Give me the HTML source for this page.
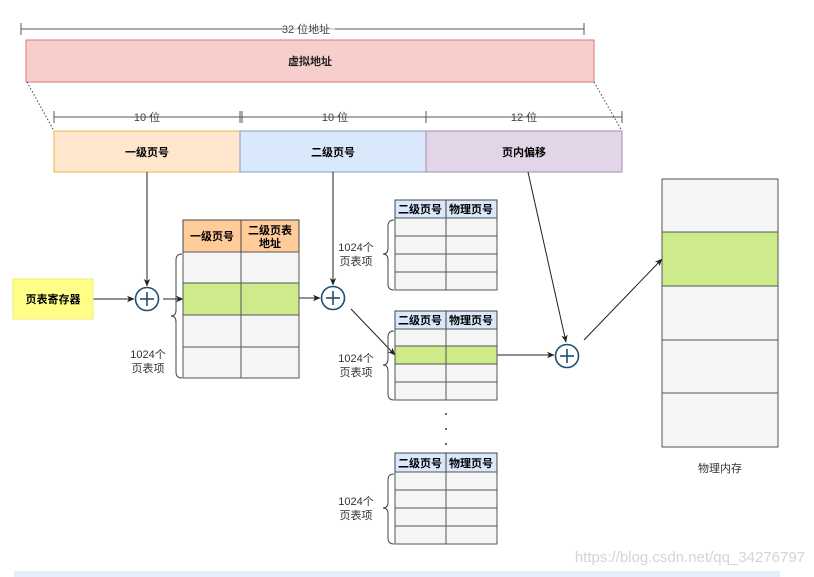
<!DOCTYPE html>
<html><head><meta charset="utf-8"><style>
html,body{margin:0;padding:0;background:#fff;}
svg{display:block;}
text{font-family:"Liberation Sans","Noto Sans CJK SC",sans-serif;}
</style></head><body>
<svg width="814" height="577" viewBox="0 0 814 577" xmlns="http://www.w3.org/2000/svg">
<defs>
<marker id="a" markerWidth="8" markerHeight="8" refX="7" refY="4" orient="auto" markerUnits="userSpaceOnUse">
<path d="M0,0.8 L7.5,4 L0,7.2 L2,4 Z" fill="#222"/></marker>
</defs>
<!-- top dimension -->
<line x1="21" y1="29" x2="584" y2="29" stroke="#555" stroke-width="1"/>
<line x1="21" y1="23" x2="21" y2="35" stroke="#555"/>
<line x1="584" y1="23" x2="584" y2="35" stroke="#555"/>
<rect x="285" y="22" width="50" height="13" fill="#fff" opacity="0.6"/>
<text x="306" y="33" font-size="11" fill="#444" text-anchor="middle">32 位地址</text>
<rect x="26" y="40" width="568" height="42" fill="#f8cecc" stroke="#d47b78" stroke-width="1"/>
<text x="310" y="65" font-size="11" font-weight="bold" text-anchor="middle" fill="#222">虚拟地址</text>
<line x1="27" y1="82" x2="54" y2="131" stroke="#444" stroke-dasharray="1.5,2"/>
<line x1="594" y1="82" x2="622" y2="131" stroke="#444" stroke-dasharray="1.5,2"/>
<!-- second dimension -->
<line x1="54" y1="117" x2="622" y2="117" stroke="#555"/>
<line x1="54" y1="111" x2="54" y2="123" stroke="#555"/>
<line x1="240" y1="111" x2="240" y2="123" stroke="#555"/>
<line x1="242" y1="111" x2="242" y2="123" stroke="#555"/>
<line x1="426" y1="111" x2="426" y2="123" stroke="#555"/>
<line x1="622" y1="111" x2="622" y2="123" stroke="#555"/>
<text x="147" y="121" font-size="11" fill="#444" text-anchor="middle">10 位</text>
<text x="335" y="121" font-size="11" fill="#444" text-anchor="middle">10 位</text>
<text x="524" y="121" font-size="11" fill="#444" text-anchor="middle">12 位</text>
<rect x="54" y="131" width="186" height="41" fill="#ffe6cc" stroke="#e8b84a"/>
<rect x="240" y="131" width="186" height="41" fill="#dae8fc" stroke="#7d9ccb"/>
<rect x="426" y="131" width="196" height="41" fill="#e1d5e7" stroke="#a48bb5"/>
<text x="147" y="156" font-size="11" font-weight="bold" text-anchor="middle">一级页号</text>
<text x="333" y="156" font-size="11" font-weight="bold" text-anchor="middle">二级页号</text>
<text x="524" y="156" font-size="11" font-weight="bold" text-anchor="middle">页内偏移</text>
<!-- connectors -->
<line x1="147" y1="172" x2="147" y2="286" stroke="#222" marker-end="url(#a)"/>
<line x1="333" y1="172" x2="333" y2="285" stroke="#222" marker-end="url(#a)"/>
<line x1="528" y1="172" x2="566" y2="342" stroke="#222" marker-end="url(#a)"/>
<line x1="93" y1="299" x2="134" y2="299" stroke="#222" marker-end="url(#a)"/>
<line x1="163" y1="299" x2="183" y2="299" stroke="#222" marker-end="url(#a)"/>
<line x1="299" y1="298" x2="320" y2="298" stroke="#222" marker-end="url(#a)"/>
<line x1="351" y1="309" x2="395" y2="355" stroke="#222" marker-end="url(#a)"/>
<line x1="497" y1="355" x2="554" y2="355" stroke="#222" marker-end="url(#a)"/>
<line x1="584" y1="340" x2="662" y2="259" stroke="#222" marker-end="url(#a)"/>
<!-- circles -->
<g fill="#fff" stroke="#1f4e6e" stroke-width="1.6">
<circle cx="147" cy="299" r="11.5"/><circle cx="333" cy="298" r="11.5"/><circle cx="567" cy="356" r="11.5"/>
</g>
<g stroke="#1f4e6e" stroke-width="1.6">
<line x1="140" y1="299" x2="154" y2="299"/><line x1="147" y1="292" x2="147" y2="306"/>
<line x1="326" y1="298" x2="340" y2="298"/><line x1="333" y1="291" x2="333" y2="305"/>
<line x1="560" y1="356" x2="574" y2="356"/><line x1="567" y1="349" x2="567" y2="363"/>
</g>
<!-- register -->
<rect x="13" y="279" width="80" height="40" fill="#ffff88" stroke="#f0ee70"/>
<text x="53" y="303" font-size="11" font-weight="bold" text-anchor="middle">页表寄存器</text>
<!-- first table -->
<rect x="183" y="220" width="58" height="32" fill="#ffcc99" stroke="#444"/>
<rect x="241" y="220" width="58" height="32" fill="#ffcc99" stroke="#444"/>
<text x="212" y="240" font-size="11" font-weight="bold" text-anchor="middle">一级页号</text>
<text x="270" y="234" font-size="11" font-weight="bold" text-anchor="middle">二级页表</text>
<text x="270" y="247" font-size="11" font-weight="bold" text-anchor="middle">地址</text>
<g stroke="#555">
<rect x="183" y="252" width="116" height="31" fill="#f5f5f5"/>
<rect x="183" y="283" width="116" height="32" fill="#cdeb8b"/>
<rect x="183" y="315" width="116" height="32" fill="#f5f5f5"/>
<rect x="183" y="347" width="116" height="31" fill="#f5f5f5"/>
<line x1="241" y1="252" x2="241" y2="378"/>
</g>
<path d="M182,254 Q176,254 176,260 L176,310 Q176,316 171,316 Q176,316 176,322 L176,372 Q176,378 182,378" fill="none" stroke="#444"/>
<text x="148" y="358" font-size="11" fill="#333" text-anchor="middle">1024个</text>
<text x="148" y="372" font-size="11" fill="#333" text-anchor="middle">页表项</text>
<!-- second level tables -->
<g id="t1">
<rect x="395" y="200" width="51" height="18" fill="#dae8fc" stroke="#444"/>
<rect x="446" y="200" width="51" height="18" fill="#dae8fc" stroke="#444"/>
<text x="420" y="213" font-size="11" font-weight="bold" text-anchor="middle">二级页号</text>
<text x="471" y="213" font-size="11" font-weight="bold" text-anchor="middle">物理页号</text>
<g stroke="#555" fill="#f5f5f5">
<rect x="395" y="218" width="102" height="18"/><rect x="395" y="236" width="102" height="18"/>
<rect x="395" y="254" width="102" height="18"/><rect x="395" y="272" width="102" height="18"/>
<line x1="446" y1="218" x2="446" y2="290"/></g>
<path d="M394,220 Q388,220 388,226 L388,248 Q388,254 383,254 Q388,254 388,260 L388,284 Q388,290 394,290" fill="none" stroke="#444"/>
<text x="356" y="251" font-size="11" fill="#333" text-anchor="middle">1024个</text>
<text x="356" y="265" font-size="11" fill="#333" text-anchor="middle">页表项</text>
</g>
<g>
<rect x="395" y="311" width="51" height="18" fill="#dae8fc" stroke="#444"/>
<rect x="446" y="311" width="51" height="18" fill="#dae8fc" stroke="#444"/>
<text x="420" y="324" font-size="11" font-weight="bold" text-anchor="middle">二级页号</text>
<text x="471" y="324" font-size="11" font-weight="bold" text-anchor="middle">物理页号</text>
<g stroke="#555" fill="#f5f5f5">
<rect x="395" y="329" width="102" height="17"/><rect x="395" y="346" width="102" height="18" fill="#cdeb8b"/>
<rect x="395" y="364" width="102" height="18"/><rect x="395" y="382" width="102" height="18"/>
<line x1="446" y1="329" x2="446" y2="400"/></g>
<path d="M394,331 Q388,331 388,337 L388,359 Q388,365 383,365 Q388,365 388,371 L388,394 Q388,400 394,400" fill="none" stroke="#444"/>
<text x="356" y="362" font-size="11" fill="#333" text-anchor="middle">1024个</text>
<text x="356" y="376" font-size="11" fill="#333" text-anchor="middle">页表项</text>
</g>
<g>
<rect x="395" y="453" width="51" height="19" fill="#dae8fc" stroke="#444"/>
<rect x="446" y="453" width="51" height="19" fill="#dae8fc" stroke="#444"/>
<text x="420" y="467" font-size="11" font-weight="bold" text-anchor="middle">二级页号</text>
<text x="471" y="467" font-size="11" font-weight="bold" text-anchor="middle">物理页号</text>
<g stroke="#555" fill="#f5f5f5">
<rect x="395" y="472" width="102" height="18"/><rect x="395" y="490" width="102" height="18"/>
<rect x="395" y="508" width="102" height="18"/><rect x="395" y="526" width="102" height="18"/>
<line x1="446" y1="472" x2="446" y2="544"/></g>
<path d="M394,474 Q388,474 388,480 L388,502 Q388,508 383,508 Q388,508 388,514 L388,538 Q388,544 394,544" fill="none" stroke="#444"/>
<text x="356" y="505" font-size="11" fill="#333" text-anchor="middle">1024个</text>
<text x="356" y="519" font-size="11" fill="#333" text-anchor="middle">页表项</text>
</g>
<g fill="#333"><circle cx="446" cy="414" r="1"/><circle cx="446" cy="429" r="1"/><circle cx="446" cy="444" r="1"/></g>
<!-- physical memory -->
<g stroke="#555">
<rect x="662" y="179" width="116" height="53" fill="#f5f5f5"/>
<rect x="662" y="232" width="116" height="54" fill="#cdeb8b"/>
<rect x="662" y="286" width="116" height="54" fill="#f5f5f5"/>
<rect x="662" y="340" width="116" height="53" fill="#f5f5f5"/>
<rect x="662" y="393" width="116" height="54" fill="#f5f5f5"/>
</g>
<text x="720" y="472" font-size="11" fill="#333" text-anchor="middle">物理内存</text>
<text x="805" y="562" font-size="15" fill="#d4d4d4" text-anchor="end">https://blog.csdn.net/qq_34276797</text>
<rect x="14" y="571" width="766" height="6" fill="#e3effb"/>
</svg>
</body></html>
